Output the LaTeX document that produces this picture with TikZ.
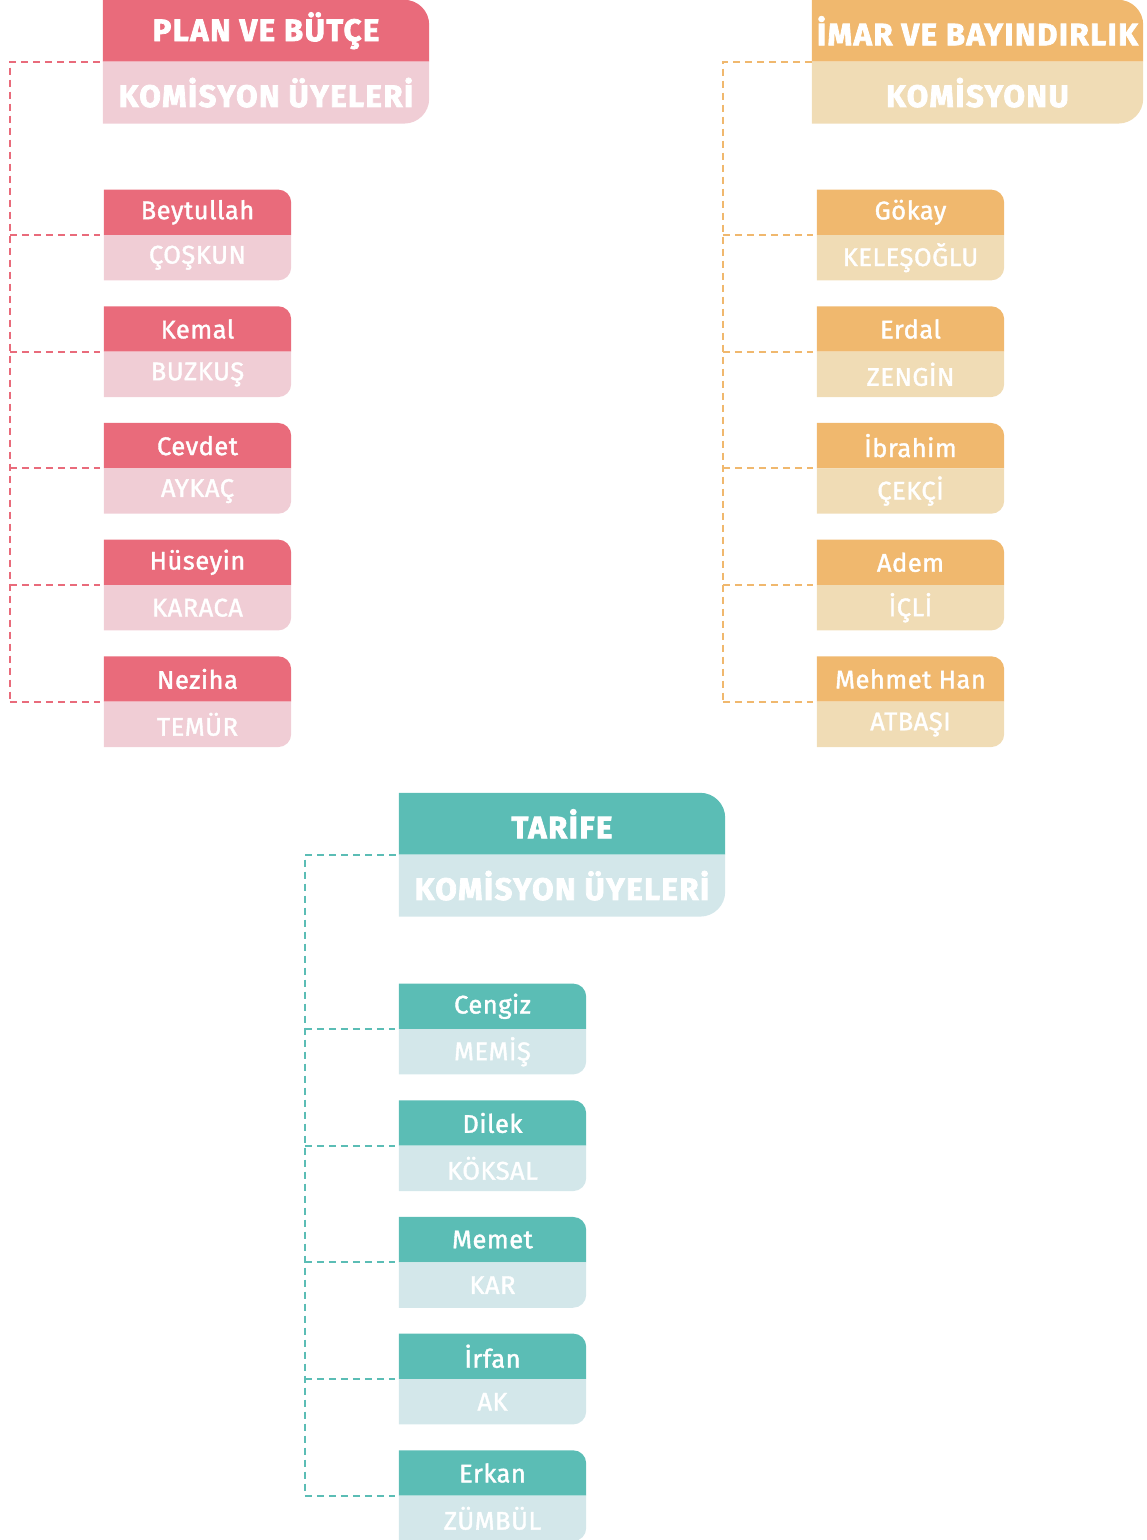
\documentclass[tikz,border=0pt]{standalone}
\usepackage{fontspec}
\setmainfont{Fira Sans}
\newfontfamily\headfont{Fira Sans}[FakeBold=2.5, LetterSpace=5]
\newfontfamily\namefont{Fira Sans}[FakeBold=1.5, LetterSpace=2]
\usetikzlibrary{positioning}
\pgfdeclarelayer{bg}
\pgfsetlayers{bg,main}
\definecolor{pinkD}{HTML}{E96B7B}
\definecolor{pinkL}{HTML}{F0CDD5}
\definecolor{orngD}{HTML}{F0B86E}
\definecolor{orngL}{HTML}{F0DCB5}
\definecolor{tealD}{HTML}{5BBDB5}
\definecolor{tealL}{HTML}{D3E7EA}

\begin{document}
\begin{tikzpicture}[
    x=1pt, y=1pt,
    node distance=0pt,
    head/.style={
      minimum width=326pt,
      minimum height=61.5pt,
      inner sep=0pt,
      text=white,
      font=\headfont\bfseries\fontsize{31}{31}\selectfont
    },
    mem/.style={
      minimum width=187pt,
      minimum height=45pt,
      inner sep=0pt,
      text=white,
      font=\namefont\fontsize{25.5}{25.5}\selectfont
    },
    link/.style={draw=#1, line width=2pt, dash pattern=on 7pt off 5pt}]

  % Helper macro: fill a two-part card, right corners rounded.
  \def\paint#1#2#3#4#5{
    \begin{pgfonlayer}{bg}
      \fill[#3] (#1.south west) -- (#1.north west) -- ([xshift=-#5]#1.north east)
        arc[start angle=90, end angle=0, radius=#5] -- (#1.south east) -- cycle;
      \fill[#4] (#2.north west) -- (#2.north east) -- ([yshift=#5]#2.south east)
        arc[start angle=0, end angle=-90, radius=#5] -- (#2.south west) -- cycle;
    \end{pgfonlayer}}

  \useasboundingbox (0,0) rectangle (1147,-1540);

  % Plan ve Butce.
  \node[head] (pb) at (266,-30.75) {PLAN VE BÜTÇE};
  \node[head, below=of pb] (pbl) {KOMİSYON ÜYELERİ};
  \paint{pb}{pbl}{pinkD}{pinkL}{25pt}
  \coordinate (pbx) at ([xshift=-93pt]pbl.north west);
  \foreach \f/\l [count=\i] in {Beytullah/ÇOŞKUN, Kemal/BUZKUŞ, Cevdet/AYKAÇ,
      Hüseyin/KARACA, Neziha/TEMÜR} {
    \pgfmathsetmacro\dy{66+(\i-1)*116.67}
    \node[mem, below right=\dy pt and 1pt of pbl.south west] (pb\i) {\f};
    \node[mem, below=of pb\i] (pbl\i) {\l};
    \paint{pb\i}{pbl\i}{pinkD}{pinkL}{13pt}
    \draw[link=pinkD] (pbx |- pb\i.south west) -- ([xshift=-4pt]pb\i.south west);
  }
  \draw[link=pinkD] ([xshift=-3pt]pbl.north west) -- (pbx) -- (pbx |- pb5.south west);

  % Imar ve Bayindirlik.
  \node[head, minimum width=331pt] (ib) at (977.5,-30.75) {İMAR VE BAYINDIRLIK};
  \node[head, minimum width=331pt, below=of ib] (ibl) {KOMİSYONU};
  \paint{ib}{ibl}{orngD}{orngL}{25pt}
  \coordinate (ibx) at ([xshift=-89pt]ibl.north west);
  \foreach \f/\l [count=\i] in {Gökay/KELEŞOĞLU, Erdal/ZENGİN, İbrahim/ÇEKÇİ,
      Adem/İÇLİ, Mehmet Han/ATBAŞI} {
    \pgfmathsetmacro\dy{66+(\i-1)*116.67}
    \node[mem, below right=\dy pt and 5pt of ibl.south west] (ib\i) {\f};
    \node[mem, below=of ib\i] (ibl\i) {\l};
    \paint{ib\i}{ibl\i}{orngD}{orngL}{13pt}
    \draw[link=orngD] (ibx |- ib\i.south west) -- ([xshift=-4pt]ib\i.south west);
  }
  \draw[link=orngD] (ibl.north west) -- (ibx) -- (ibx |- ib5.south west);

  % Tarife.
  \node[head] (tk) at (562,-823.75) {TARİFE};
  \node[head, below=of tk] (tkl) {KOMİSYON ÜYELERİ};
  \paint{tk}{tkl}{tealD}{tealL}{25pt}
  \coordinate (tkx) at ([xshift=-94pt]tkl.north west);
  \foreach \f/\l [count=\i] in {Cengiz/MEMİŞ, Dilek/KÖKSAL, Memet/KAR,
      İrfan/AK, Erkan/ZÜMBÜL} {
    \pgfmathsetmacro\dy{67+(\i-1)*116.67}
    \node[mem, below right=\dy pt and 0pt of tkl.south west] (tk\i) {\f};
    \node[mem, below=of tk\i] (tkl\i) {\l};
    \paint{tk\i}{tkl\i}{tealD}{tealL}{13pt}
    \draw[link=tealD] (tkx |- tk\i.south west) -- ([xshift=-4pt]tk\i.south west);
  }
  \draw[link=tealD] ([xshift=-3pt]tkl.north west) -- (tkx) -- (tkx |- tk5.south west);
\end{tikzpicture}
\end{document}
